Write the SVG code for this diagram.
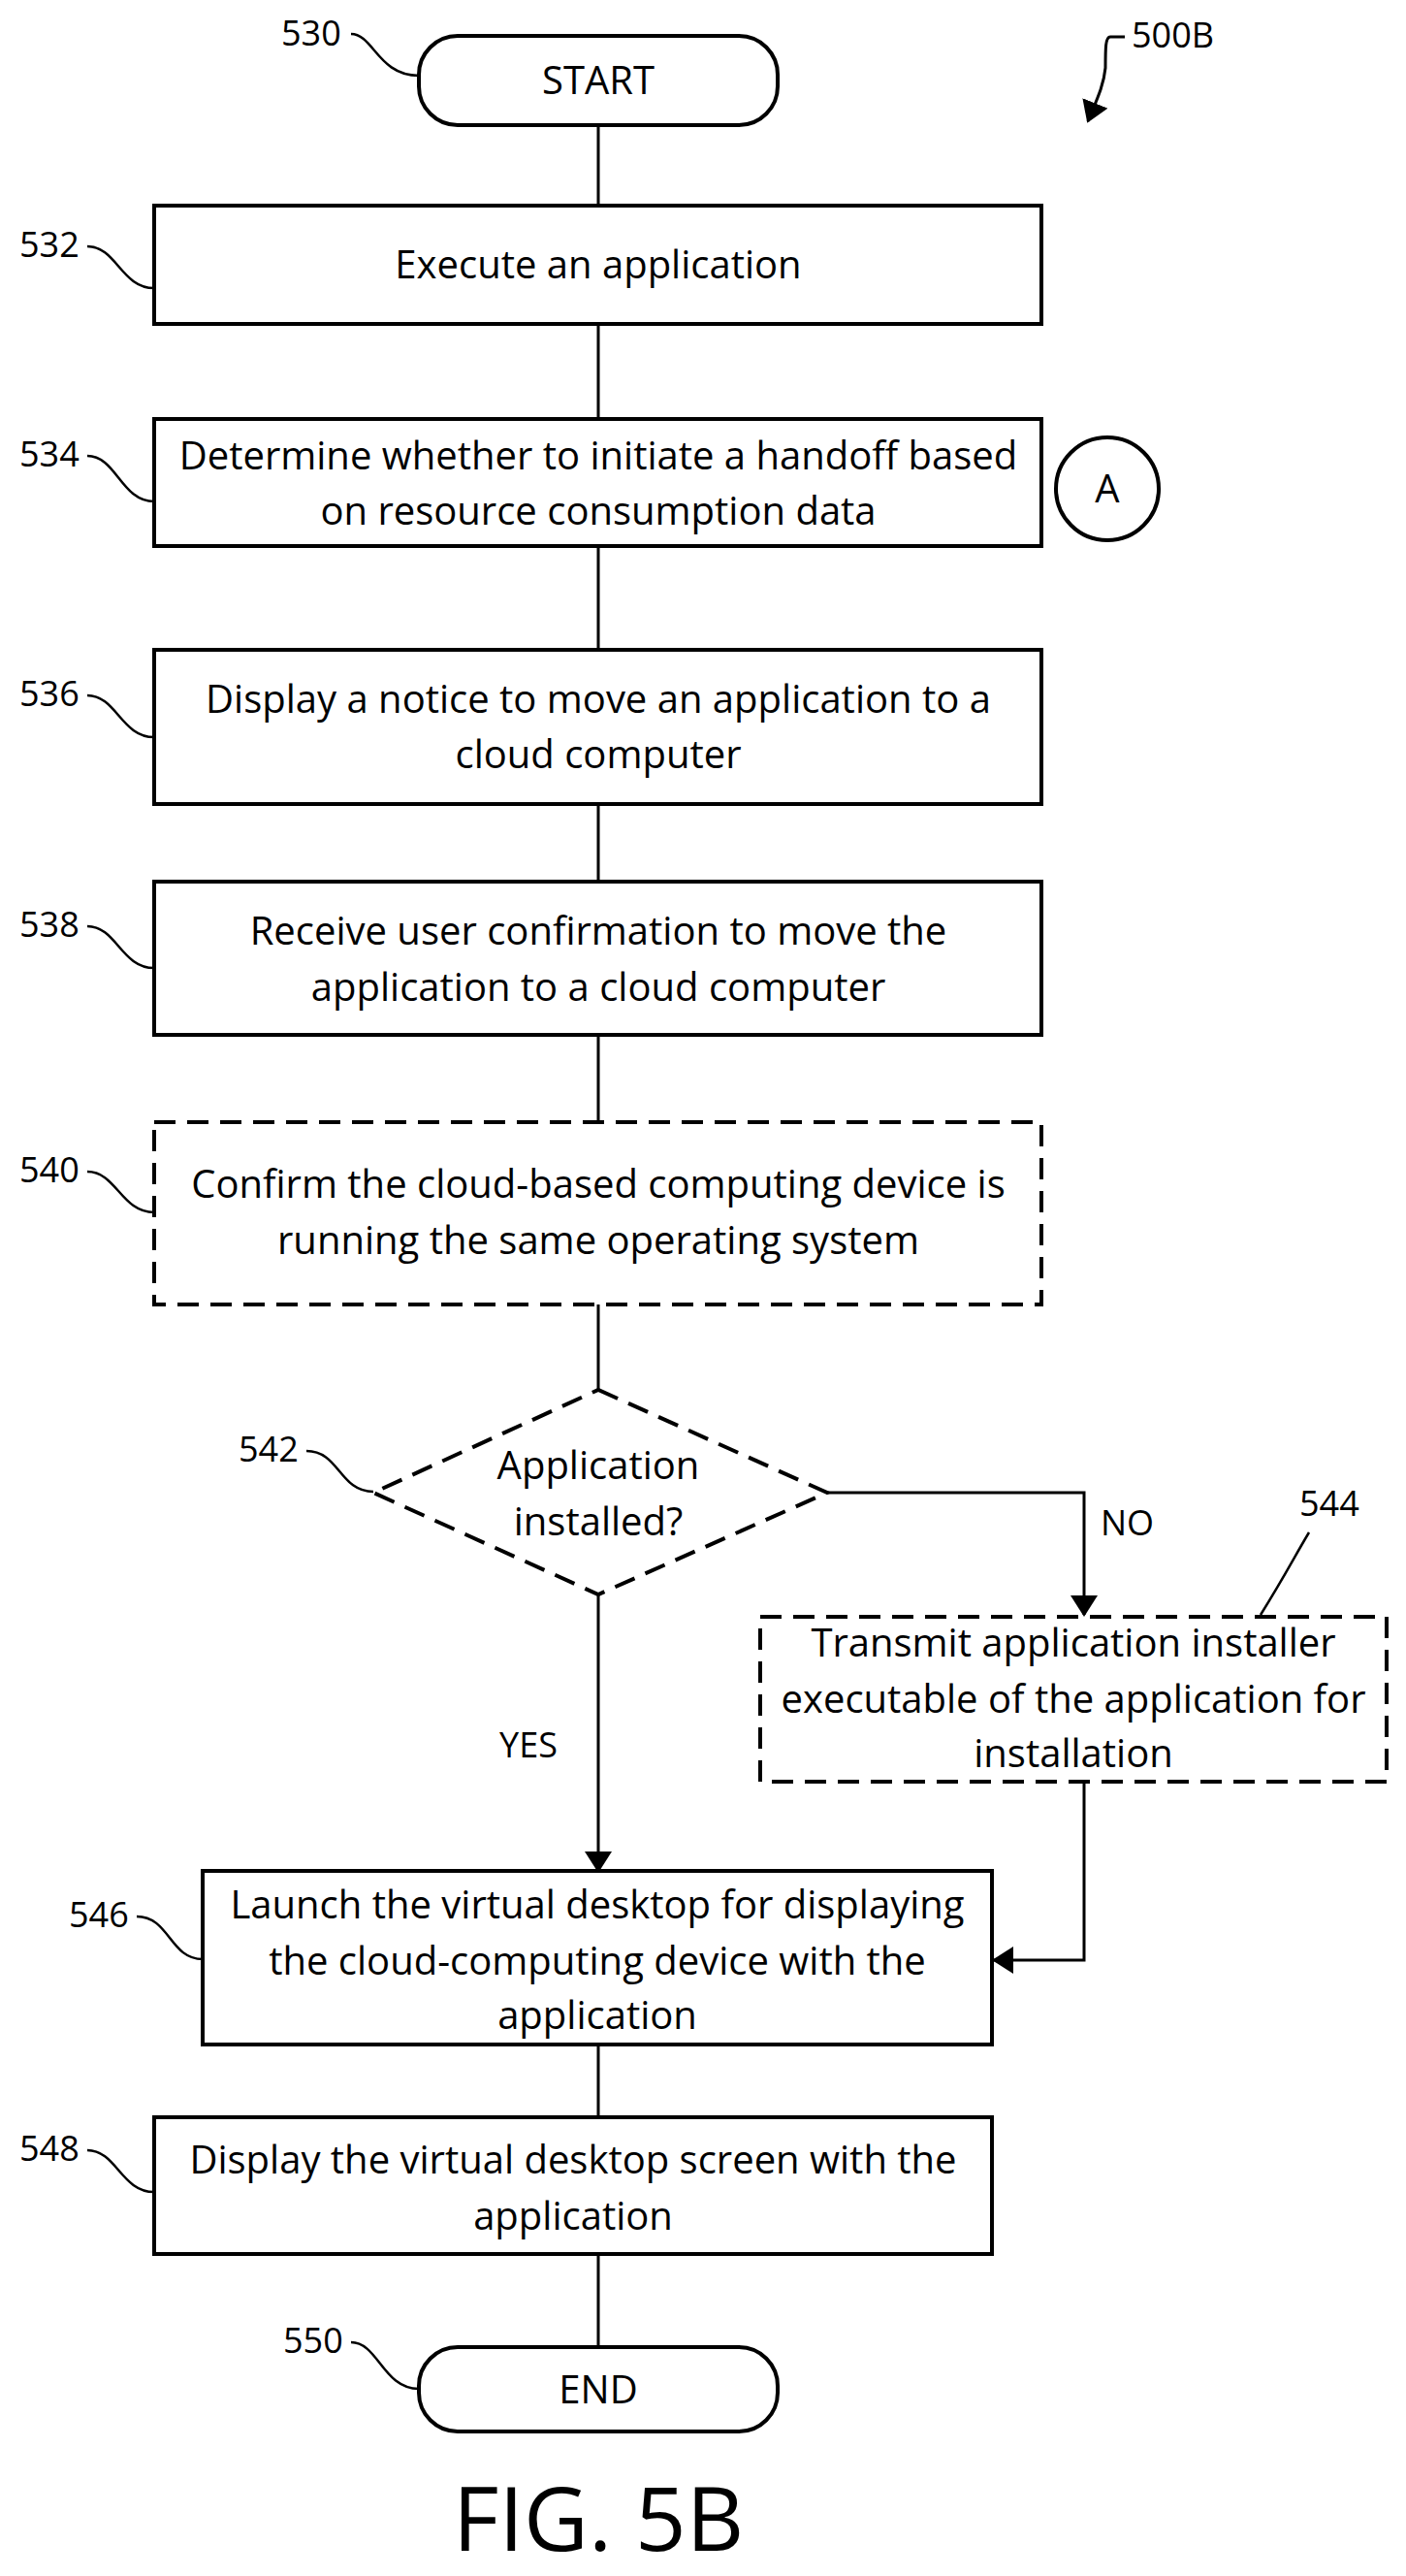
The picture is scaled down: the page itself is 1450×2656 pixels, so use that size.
<svg xmlns="http://www.w3.org/2000/svg" width="1450" height="2656" viewBox="0 0 1450 2656">
<style>
.b{fill:#fff;stroke:#000;stroke-width:4}
.d{fill:#fff;stroke:#000;stroke-width:4;stroke-dasharray:22 12}
.t{font-family:"Open Sans",sans-serif;font-size:40px;text-anchor:middle;fill:#000}
.l{font-family:"Open Sans",sans-serif;font-size:36px;fill:#000}
.c{fill:none;stroke:#000;stroke-width:3}
.q{fill:none;stroke:#000;stroke-width:2.5}
</style>
<defs>
<marker id="ah" markerWidth="22" markerHeight="28" refX="20" refY="14" orient="auto" markerUnits="userSpaceOnUse" viewBox="0 0 22 28"><path d="M0,0 L22,14 L0,28 z"/></marker></defs>
<g id="connectors">
<path class="c" d="M617,129V212M617,334V432M617,563V670M617,829V909M617,1067V1157M617,1345V1433M617,2108V2183M617,2324V2420"/>
<path class="c" d="M617,1644V1929" marker-end="url(#ah)"/>
<path class="c" d="M853,1539H1118V1665" marker-end="url(#ah)"/>
<path class="c" d="M1118,1837V2021H1025" marker-end="url(#ah)"/>
<text class="l" x="1135" y="1583">NO</text>
<text class="l" x="515" y="1812">YES</text>
</g>
<g id="n500B"><text class="l" x="1167" y="49">500B</text>
<path class="c" d="M1160,38H1145C1140,38 1140,50 1140,70C1138,90 1130,105 1122,125" marker-end="url(#ah)"/></g>
<g id="n530"><rect class="b" x="432" y="37" width="370" height="92" rx="40"/><text class="t" x="617" y="97">START</text>
<text class="l" x="290" y="47">530</text><path class="q" d="M362,35C385,35 390,78 432,78"/></g>
<g id="n532"><rect class="b" x="159" y="212" width="915" height="122"/><text class="t" x="617" y="287">Execute an application</text>
<text class="l" x="20" y="265">532</text><path class="q" d="M90,254C120,254 125,297 159,297"/></g>
<g id="n534"><rect class="b" x="159" y="432" width="915" height="131"/><text class="t" x="617" y="484">Determine whether to initiate a handoff based</text><text class="t" x="617" y="541">on resource consumption data</text>
<text class="l" x="20" y="481">534</text><path class="q" d="M90,470C120,470 125,517 159,517"/></g>
<g id="nA"><circle class="b" cx="1142" cy="504" r="53"/><text class="t" x="1142" y="518">A</text></g>
<g id="n536"><rect class="b" x="159" y="670" width="915" height="159"/><text class="t" x="617" y="735">Display a notice to move an application to a</text><text class="t" x="617" y="792">cloud computer</text>
<text class="l" x="20" y="728">536</text><path class="q" d="M90,717C120,717 125,760 159,760"/></g>
<g id="n538"><rect class="b" x="159" y="909" width="915" height="158"/><text class="t" x="617" y="974">Receive user confirmation to move the</text><text class="t" x="617" y="1032">application to a cloud computer</text>
<text class="l" x="20" y="966">538</text><path class="q" d="M90,955C120,955 125,998 159,998"/></g>
<g id="n540"><rect class="d" x="159" y="1157" width="915" height="188"/><text class="t" x="617" y="1235">Confirm the cloud-based computing device is</text><text class="t" x="617" y="1293">running the same operating system</text>
<text class="l" x="20" y="1219">540</text><path class="q" d="M90,1208C120,1208 125,1250 159,1250"/></g>
<g id="n542"><path class="d" d="M617,1433L853,1539L617,1644L385,1539Z"/><text class="t" x="617" y="1525">Application</text><text class="t" x="617" y="1583">installed?</text>
<text class="l" x="246" y="1507">542</text><path class="q" d="M316,1496C350,1496 350,1538 385,1538"/></g>
<g id="n544"><rect class="d" x="784" y="1667" width="646" height="170"/><text class="t" x="1107" y="1708">Transmit application installer</text><text class="t" x="1107" y="1766">executable of the application for</text><text class="t" x="1107" y="1822">installation</text>
<text class="l" x="1340" y="1563">544</text><path class="q" d="M1350,1580C1335,1605 1325,1625 1300,1665"/></g>
<g id="n546"><rect class="b" x="209" y="1929" width="814" height="179"/><text class="t" x="616" y="1978">Launch the virtual desktop for displaying</text><text class="t" x="616" y="2036">the cloud-computing device with the</text><text class="t" x="616" y="2092">application</text>
<text class="l" x="71" y="1987">546</text><path class="q" d="M141,1976C175,1976 175,2020 209,2020"/></g>
<g id="n548"><rect class="b" x="159" y="2183" width="864" height="141"/><text class="t" x="591" y="2241">Display the virtual desktop screen with the</text><text class="t" x="591" y="2299">application</text>
<text class="l" x="20" y="2228">548</text><path class="q" d="M90,2217C120,2217 125,2260 159,2260"/></g>
<g id="n550"><rect class="b" x="432" y="2420" width="370" height="87" rx="40"/><text class="t" x="617" y="2478">END</text>
<text class="l" x="292" y="2426">550</text><path class="q" d="M362,2415C390,2415 395,2463 432,2463"/></g>
<text x="617" y="2630" font-family="Open Sans, sans-serif" font-size="92" text-anchor="middle">FIG. 5B</text>
</svg>
